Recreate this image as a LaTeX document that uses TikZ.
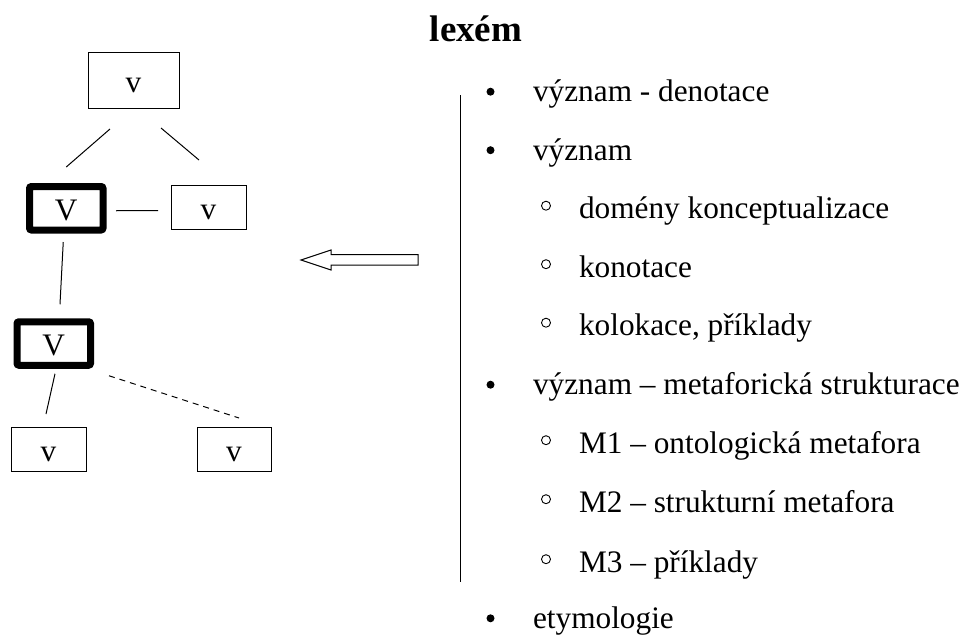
\documentclass[tikz,border=0pt]{standalone}
\usepackage{fontspec}
\setmainfont{Liberation Serif}
\usetikzlibrary{calc}
\begin{document}
\begin{tikzpicture}[x=1pt,y=-1pt,
  every node/.style={inner sep=0pt, outer sep=0pt, font=\fontsize{31.3}{36}\selectfont},
  boxtext/.style={text height=24pt, text depth=0pt},
  wbox/.style={draw, line width=1pt, minimum width=75pt, minimum height=44pt, boxtext},
  hbox/.style={draw, line width=7pt, rounded corners=2pt, minimum width=73.5pt, minimum height=43.5pt, boxtext},
  link/.style={line width=1pt},
  itemone/.style={anchor=base west},
  itemtwo/.style={anchor=base west},
  dotmark/.style={circle, fill=black, minimum size=8pt},
  ringmark/.style={circle, draw, line width=0.9pt, minimum size=9pt}
]
\useasboundingbox (0,0) rectangle (971,637);

% title
\node[anchor=base, font=\fontsize{37}{42}\selectfont\bfseries] (title) at (476,41) {lexém};

% tree of boxes
\node[wbox, minimum width=91pt, minimum height=56pt, text height=25pt] (top) at (133.5,80) {v};
\node[hbox] (V1) at (66.25,208.25) {V};
\node[wbox] (vr) at (208.5,207) {v};
\node[hbox] (V2) at (53.75,343.5) {V};
\node[wbox] (bl) at (48.5,449) {v};
\node[wbox, minimum width=74pt] (br) at (234,449) {v};

\draw[link] ($(top.south)+(-23.5,21)$) -- ($(V1.north)+(0,-19.5)$);
\draw[link] ($(top.south)+(27.5,20)$) -- ($(vr.north)+(-9.5,-25)$);
\draw[link] ($(V1.east)+(13,2.5)$) -- ($(vr.west)+(-13,3.5)$);
\draw[link] ($(V1.south)+(-3,12)$) -- ($(V2.north)+(6.25,-17.5)$);
\draw[link] ($(V2.south)+(1.25,8.5)$) -- ($(bl.north)+(-2.5,-13)$);
\draw[link, dash pattern=on 6pt off 5pt] ($(V2.south east)+(18.5,10.5)$) -- ($(br.north)+(5,-9)$);

% hollow arrow pointing to the tree
\draw[line width=1pt, line join=miter] (301,260) -- (331,250) -- (331,254.5) -- (418,254.5)
  -- (418,265) -- (331,265) -- (331,270) -- cycle;

% bracket line of the list
\coordinate (bartop) at (460,95);
\coordinate (barbot) at (460,582);
\draw[line width=1pt] (bartop) -- (barbot);

% list
\node[itemone] (i1) at (533,101.7) {význam - denotace};
\node[itemone] (i2) at (533,160.2) {význam};
\node[itemtwo] (i3) at (579,218.7) {domény konceptualizace};
\node[itemtwo] (i4) at (579,277.2) {konotace};
\node[itemtwo] (i5) at (579,335.7) {kolokace, příklady};
\node[itemone] (i6) at (533,394.7) {význam – metaforická strukturace};
\node[itemtwo] (i7) at (579,453.2) {M1 – ontologická metafora};
\node[itemtwo] (i8) at (579,512.2) {M2 – strukturní metafora};
\node[itemtwo] (i9) at (579,572.2) {M3 – příklady};
\node[itemone] (i10) at (533,628.3) {etymologie};

\foreach \n in {i1,i2,i6,i10}
  \node[dotmark] at ($(\n.base west)+(-42.5,-10)$) {};
\foreach \n in {i3,i4,i5,i7,i8,i9}
  \node[ringmark] at ($(\n.base west)+(-33,-13)$) {};
\end{tikzpicture}
\end{document}
